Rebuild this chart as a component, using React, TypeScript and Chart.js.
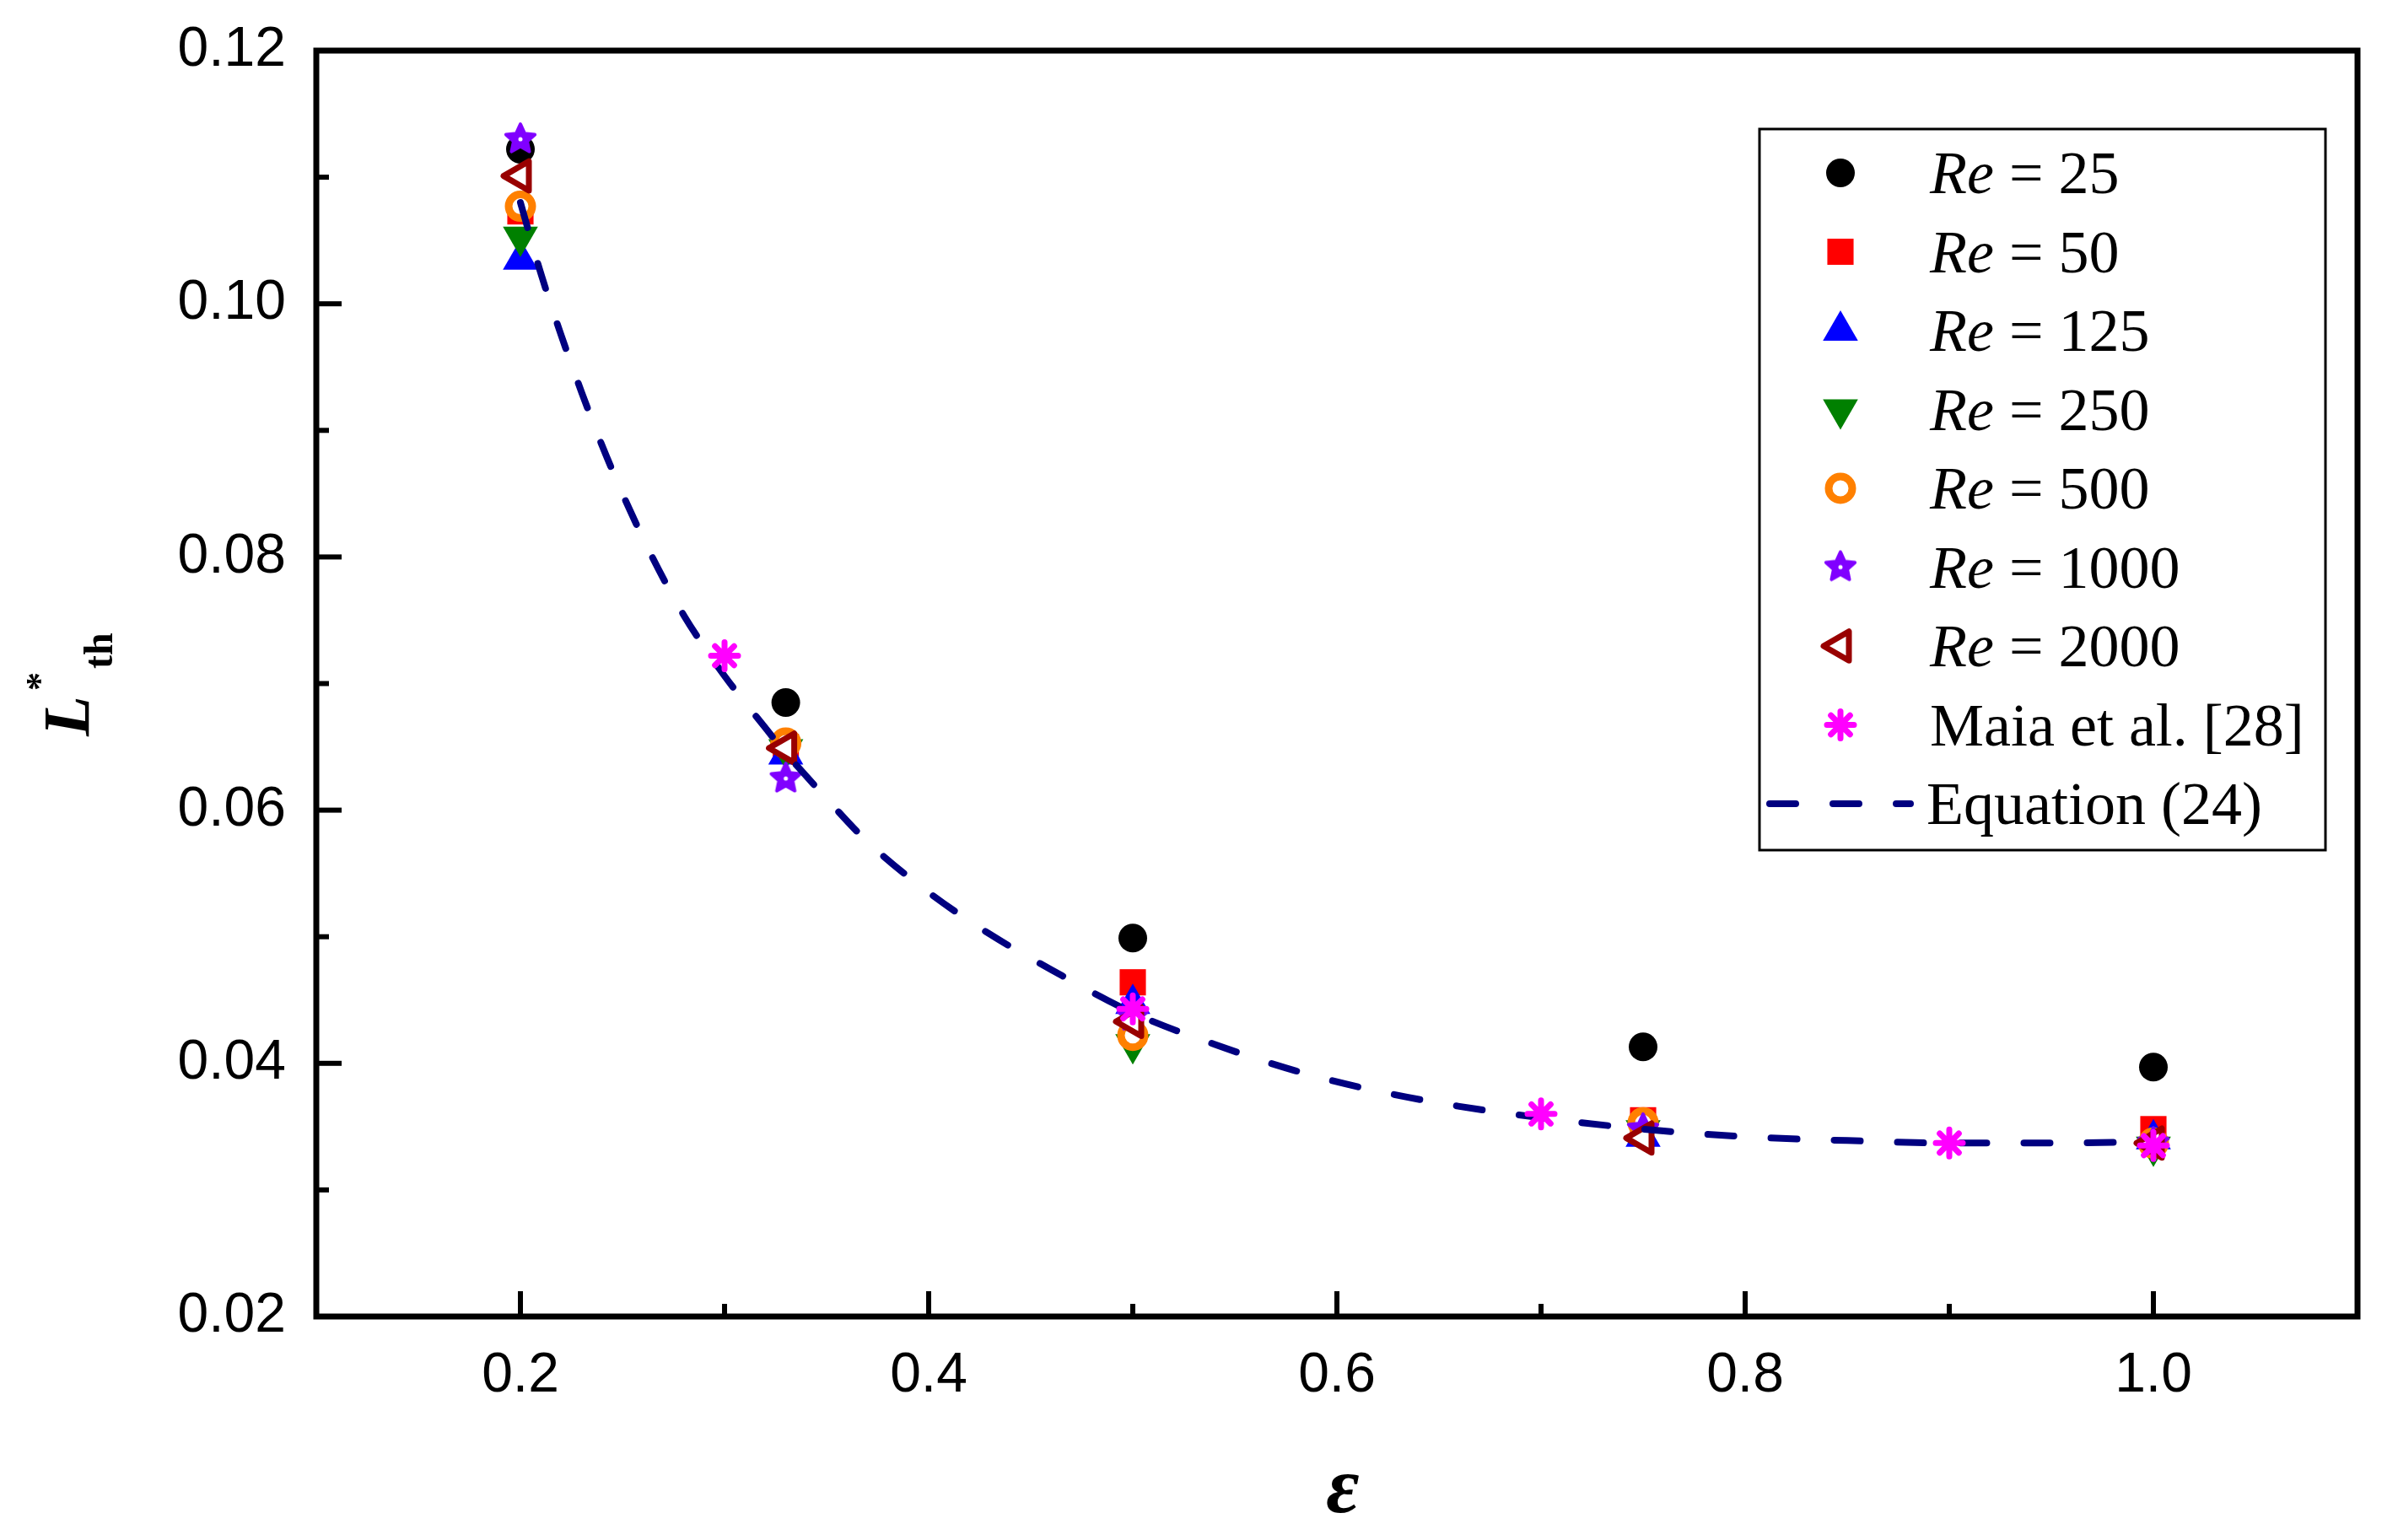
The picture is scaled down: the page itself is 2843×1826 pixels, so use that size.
import { useEffect, useRef } from 'react'
import { Chart, registerables } from 'chart.js'
import { drawPoint } from 'chart.js/helpers'

Chart.register(...registerables)

// simulated threshold lengths, one array per Reynolds number
const epsSim = [0.2, 0.33, 0.5, 0.75, 1.0]
const re25 = [0.1122, 0.0685, 0.0499, 0.0413, 0.0397]
const re50 = [0.1073, 0.065, 0.0464, 0.0355, 0.0348]
const re125 = [0.1035, 0.0644, 0.0447, 0.0342, 0.034]
const re250 = [0.1053, 0.0648, 0.0415, 0.0347, 0.0334]
const re500 = [0.1077, 0.0653, 0.0422, 0.0353, 0.0337]
const re1000 = [0.113, 0.0625, 0.0437, 0.0348, 0.0337]
const re2000 = [0.1101, 0.0649, 0.0433, 0.0341, 0.0337]

// Maia et al. [28]
const maiaEps = [0.3, 0.5, 0.7, 0.9, 1.0]
const maiaVals = [0.0722, 0.0443, 0.036, 0.0337, 0.0335]

// Equation (24)
const eqEps = [0.2, 0.21, 0.22, 0.23, 0.24, 0.25, 0.26, 0.27, 0.28, 0.29, 0.3, 0.31, 0.32, 0.33, 0.34, 0.35, 0.37, 0.4, 0.43, 0.46, 0.5, 0.54, 0.58, 0.62, 0.66, 0.7, 0.75, 0.8, 0.85, 0.9, 0.95, 1.0]
const eqVals = [0.108, 0.1024, 0.0975, 0.093, 0.0888, 0.085, 0.0815, 0.0783, 0.0754, 0.0729, 0.0706, 0.0685, 0.0665, 0.0645, 0.0627, 0.0609, 0.0575, 0.0535, 0.0502, 0.0474, 0.044, 0.0415, 0.0394, 0.0378, 0.0366, 0.0357, 0.0348, 0.0342, 0.0339, 0.0337, 0.0337, 0.0338]

const xMajorTicks = [0.2, 0.4, 0.6, 0.8, 1.0]
const xMinorTicks = [0.3, 0.5, 0.7, 0.9]
const yMajorTicks = [0.02, 0.04, 0.06, 0.08, 0.1, 0.12]
const yMinorTicks = [0.03, 0.05, 0.07, 0.09, 0.11]

const reLabels = ['25', '50', '125', '250', '500', '1000', '2000']

const W = 2843
const H = 1826
const SERIF = '"Liberation Serif", "Times New Roman", serif'
const SANS = '"Liberation Sans", Arial, sans-serif'
const DASH = [31, 44]

function makeStar(color: string) {
  const c = document.createElement('canvas')
  c.width = 46
  c.height = 46
  const g = c.getContext('2d')!
  const cx = 23, cy = 23, R = 18, r = 8.5
  g.beginPath()
  for (let i = 0; i < 10; i++) {
    const a = -Math.PI / 2 + i * Math.PI / 5
    const rad = i % 2 ? r : R
    g.lineTo(cx + rad * Math.cos(a), cy + rad * Math.sin(a))
  }
  g.closePath()
  g.fillStyle = color
  g.strokeStyle = color
  g.lineWidth = 4
  g.lineJoin = 'round'
  g.fill()
  g.stroke()
  g.beginPath()
  g.arc(cx, cy, 2.5, 0, Math.PI * 2)
  g.fillStyle = '#ffffff'
  g.fill()
  return c
}

export default function App() {
  const chartRef = useRef<HTMLCanvasElement | null>(null)

  useEffect(() => {
    document.body.style.margin = '0'
    if (!chartRef.current) return

    const star = makeStar('#8000FF')
    const simValues = [re25, re50, re125, re250, re500, re1000, re2000]
    const simStyles: any[] = [
      { pointStyle: 'circle', radius: 17, rotation: 0, fill: '#000000', color: '#000000', border: 0 },
      { pointStyle: 'rect', radius: 22, rotation: 0, fill: '#FF0000', color: '#FF0000', border: 0 },
      { pointStyle: 'triangle', radius: 24, rotation: 0, fill: '#0000FF', color: '#0000FF', border: 0 },
      { pointStyle: 'triangle', radius: 24, rotation: 180, fill: '#008000', color: '#008000', border: 0 },
      { pointStyle: 'circle', radius: 14, rotation: 0, fill: '#FFFFFF', color: '#FF8000', border: 9 },
      { pointStyle: star, radius: 20, rotation: 0, fill: '#8000FF', color: '#8000FF', border: 0 },
      { pointStyle: 'triangle', radius: 20, rotation: -90, fill: '#FFFFFF', color: '#990000', border: 7 },
    ]
    const maiaStyle = { pointStyle: 'star', radius: 16, rotation: 0, fill: '#FF00FF', color: '#FF00FF', border: 7 }

    const datasets: any[] = simValues.map((vals, i) => ({
      type: 'scatter',
      label: 'Re = ' + reLabels[i],
      data: epsSim.map((x, j) => ({ x, y: vals[j] })),
      pointStyle: simStyles[i].pointStyle,
      pointRadius: simStyles[i].radius,
      pointRotation: simStyles[i].rotation,
      pointBackgroundColor: simStyles[i].fill,
      pointBorderColor: simStyles[i].color,
      pointBorderWidth: simStyles[i].border,
      order: 8 - i,
    }))
    datasets.push({
      type: 'line',
      label: 'Equation (24)',
      data: eqEps.map((x, j) => ({ x, y: eqVals[j] })),
      borderColor: '#000080',
      borderWidth: 8,
      borderDash: DASH,
      borderCapStyle: 'round',
      pointRadius: 0,
      fill: false,
      cubicInterpolationMode: 'monotone',
      order: 1,
    })
    datasets.push({
      type: 'scatter',
      label: 'Maia et al. [28]',
      data: maiaEps.map((x, j) => ({ x, y: maiaVals[j] })),
      pointStyle: maiaStyle.pointStyle,
      pointRadius: maiaStyle.radius,
      pointBackgroundColor: maiaStyle.fill,
      pointBorderColor: maiaStyle.color,
      pointBorderWidth: maiaStyle.border,
      order: 0,
    })

    const roundJoins = {
      id: 'roundJoins',
      beforeDatasetsDraw(chart: any) {
        chart.ctx.save()
        chart.ctx.lineJoin = 'round'
        chart.ctx.lineCap = 'round'
      },
      afterDatasetsDraw(chart: any) {
        chart.ctx.restore()
      },
    }

    const decorations = {
      id: 'decorations',
      afterDraw(chart: any) {
        const ctx = chart.ctx as CanvasRenderingContext2D
        const { left, right, top, bottom } = chart.chartArea
        const xs = chart.scales.x
        const ys = chart.scales.y
        ctx.save()

        // inward ticks
        ctx.strokeStyle = '#000'
        ctx.lineWidth = 6
        ctx.lineCap = 'butt'
        const tick = (x1: number, y1: number, x2: number, y2: number) => {
          ctx.beginPath()
          ctx.moveTo(x1, y1)
          ctx.lineTo(x2, y2)
          ctx.stroke()
        }
        xMajorTicks.forEach(v => { const p = xs.getPixelForValue(v); tick(p, bottom, p, bottom - 30) })
        xMinorTicks.forEach(v => { const p = xs.getPixelForValue(v); tick(p, bottom, p, bottom - 15) })
        yMajorTicks.forEach(v => { const p = ys.getPixelForValue(v); tick(left, p, left + 30, p) })
        yMinorTicks.forEach(v => { const p = ys.getPixelForValue(v); tick(left, p, left + 15, p) })

        // frame
        ctx.lineWidth = 7
        ctx.lineJoin = 'miter'
        ctx.strokeRect(left, top, right - left, bottom - top)

        // axis titles
        ctx.fillStyle = '#000'
        ctx.textAlign = 'center'
        ctx.textBaseline = 'alphabetic'
        ctx.font = `bold italic 96px ${SERIF}`
        ctx.fillText('\u03B5', 1592, 1793)

        ctx.save()
        ctx.translate(105, 873)
        ctx.rotate(-Math.PI / 2)
        ctx.textAlign = 'left'
        ctx.font = `bold italic 78px ${SERIF}`
        ctx.fillText('L', 0, 0)
        ctx.textAlign = 'center'
        ctx.font = `bold 44px ${SERIF}`
        ctx.fillText('*', 65, -44)
        ctx.textAlign = 'left'
        ctx.font = `bold 48px ${SERIF}`
        ctx.fillText('th', 80, 28)
        ctx.restore()

        // legend
        const lx = 2086, ly = 153, lr = 2757, lb = 1008
        ctx.fillStyle = '#fff'
        ctx.fillRect(lx, ly, lr - lx, lb - ly)
        ctx.strokeStyle = '#000'
        ctx.lineWidth = 3
        ctx.strokeRect(lx, ly, lr - lx, lb - ly)

        const markerX = 2182
        const textX = 2288
        const rowY = (i: number) => 205 + i * 93.5
        ctx.lineJoin = 'round'
        ctx.lineCap = 'round'
        const marker = (s: any, y: number) => {
          ctx.fillStyle = s.fill
          ctx.strokeStyle = s.color
          ctx.lineWidth = s.border
          drawPoint(ctx, { pointStyle: s.pointStyle, radius: s.radius, rotation: s.rotation, borderWidth: s.border } as any, markerX, y)
        }
        ctx.textAlign = 'left'
        ctx.textBaseline = 'alphabetic'
        reLabels.forEach((lab, i) => {
          const y = rowY(i)
          marker(simStyles[i], y)
          ctx.fillStyle = '#000'
          ctx.font = `italic 72px ${SERIF}`
          ctx.fillText('Re', textX, y + 24)
          const w = ctx.measureText('Re').width
          ctx.font = `72px ${SERIF}`
          ctx.fillText(' = ' + lab, textX + w, y + 24)
        })
        marker(maiaStyle, rowY(7))
        ctx.fillStyle = '#000'
        ctx.font = `72px ${SERIF}`
        ctx.fillText('Maia et al. [28]', textX, rowY(7) + 24)

        const ey = rowY(8)
        ctx.strokeStyle = '#000080'
        ctx.lineWidth = 8
        ctx.setLineDash(DASH)
        ctx.beginPath()
        ctx.moveTo(2098, ey)
        ctx.lineTo(2265, ey)
        ctx.stroke()
        ctx.setLineDash([])
        ctx.fillStyle = '#000'
        ctx.fillText('Equation (24)', textX - 4, ey + 24)

        ctx.restore()
      },
    }

    const chart = new Chart(chartRef.current, {
      type: 'scatter',
      data: { datasets },
      options: {
        animation: false,
        responsive: false,
        maintainAspectRatio: false,
        devicePixelRatio: 1,
        layout: { padding: { top: 60, right: W - 2795, left: 0, bottom: 0 } },
        plugins: {
          legend: { display: false },
          tooltip: { enabled: false },
        },
        scales: {
          x: {
            type: 'linear',
            min: 0.1,
            max: 1.1,
            afterBuildTicks: (s: any) => { s.ticks = xMajorTicks.map(value => ({ value })) },
            afterFit: (s: any) => {
              s.height = H - 1561
              s.paddingLeft = 0
              s.paddingRight = 0
            },
            grid: { display: false },
            border: { display: false },
            ticks: {
              autoSkip: false,
              maxRotation: 0,
              padding: 23,
              color: '#000',
              font: { family: SANS, size: 66 },
              callback: (v: any) => Number(v).toFixed(1),
            },
          },
          y: {
            type: 'linear',
            min: 0.02,
            max: 0.12,
            afterBuildTicks: (s: any) => { s.ticks = yMajorTicks.map(value => ({ value })) },
            afterFit: (s: any) => {
              s.width = 375
              s.paddingTop = 0
              s.paddingBottom = 0
            },
            grid: { display: false },
            border: { display: false },
            ticks: {
              autoSkip: false,
              padding: 28,
              color: '#000',
              font: { family: SANS, size: 66 },
              callback: (v: any) => Number(v).toFixed(2),
            },
          },
        },
      },
      plugins: [roundJoins, decorations],
    } as any)

    return () => {
      chart.destroy()
    }
  }, [])

  return (
    <div style={{ width: W, height: H }}>
      <canvas ref={chartRef} width={W} height={H} style={{ width: W, height: H, display: 'block' }} />
    </div>
  )
}
